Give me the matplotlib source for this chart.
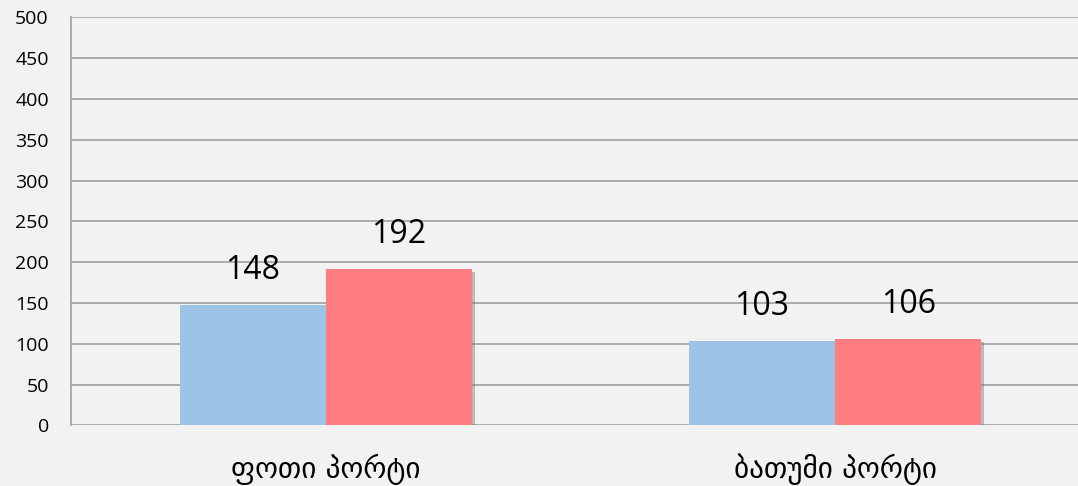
import matplotlib
matplotlib.use("Agg")
import matplotlib.pyplot as plt
import matplotlib.patheffects as pe
import numpy as np

plt.rcParams['font.family'] = ['Open Sans', 'DejaVu Sans']

categories = ["ფოთი პორტი", "ბათუმი პორტი"]
series_a = [148, 103]
series_b = [192, 106]
y_ticks = list(range(0, 501, 50))

bg = "#f2f2f2"
fig = plt.figure(figsize=(10.78, 4.86), dpi=100, facecolor=bg)
ax = fig.add_axes([0.0659, 0.1245, 0.945, 0.8395], facecolor=bg)

x = np.arange(len(categories))
width = 0.287
shadow = [pe.SimplePatchShadow(offset=(2, -2), shadow_rgbFace="#777777", alpha=0.45), pe.Normal()]
bars_a = ax.bar(x - width / 2, series_a, width=width, color="#9dc3e6", zorder=3, path_effects=shadow)
bars_b = ax.bar(x + width / 2, series_b, width=width, color="#ff7c80", zorder=3, path_effects=shadow)

for bars in (bars_a, bars_b):
    for b in bars:
        ax.annotate(str(int(b.get_height())), (b.get_x() + b.get_width() / 2, b.get_height()),
                    xytext=(0, 13), textcoords="offset points", ha="center", va="bottom",
                    fontsize=23, color="#000000")

ax.set_xlim(-0.5, 1.5)
ax.set_ylim(0, 500)
ax.set_yticks(y_ticks)
ax.set_xticks(x)
ax.set_xticklabels(categories, fontsize=21, family=['DejaVu Sans'])
ax.tick_params(axis="y", length=0, pad=16, labelsize=14)
ax.tick_params(axis="x", length=0, pad=20)
ax.yaxis.grid(True, color="#999999", linewidth=1.1, zorder=0)
for s in ["top", "right", "bottom"]:
    ax.spines[s].set_visible(False)
ax.spines["left"].set_color("#999999")
ax.spines["left"].set_linewidth(1.1)

fig.savefig("out.png", dpi=100, facecolor=bg)
